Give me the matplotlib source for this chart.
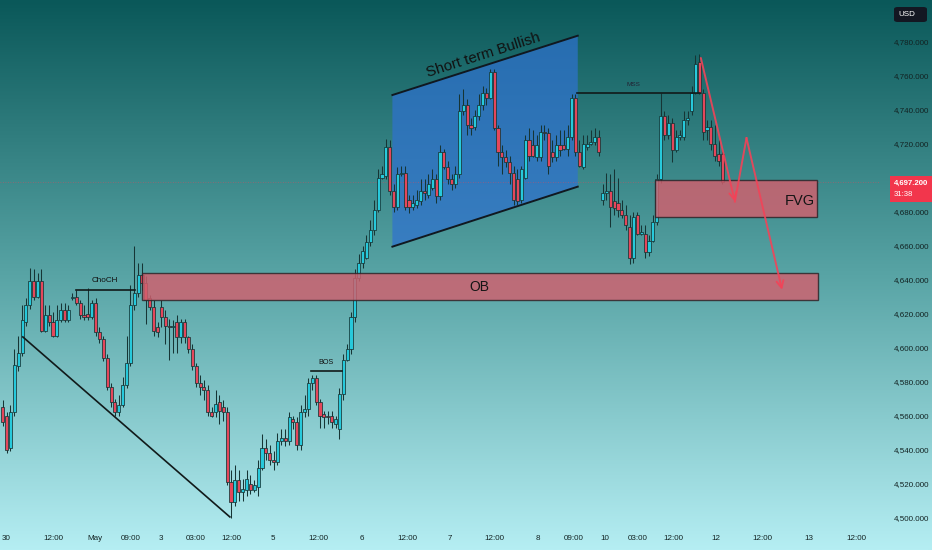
import matplotlib.pyplot as plt
import numpy as np
from matplotlib.colors import LinearSegmentedColormap
from matplotlib.patches import Polygon, Rectangle, FancyBboxPatch

plt.rcParams['font.family'] = ['Liberation Sans', 'DejaVu Sans']

# hourly candles (price units)
opens = [
    4565, 4560, 4541, 4562, 4589, 4597, 4615, 4625, 4639, 4630,
    4639, 4610, 4619, 4615, 4607, 4616, 4622, 4616, 4629, 4630,
    4626, 4619, 4620, 4618, 4626, 4609, 4605, 4594, 4577, 4568,
    4562, 4566, 4578, 4591, 4625, 4632, 4643, 4638, 4629, 4624,
    4612, 4624, 4618, 4613, 4612, 4615, 4606, 4615, 4606, 4599,
    4589, 4579, 4577, 4575, 4562, 4562, 4568, 4565, 4562, 4521,
    4509, 4522, 4515, 4516, 4520, 4516, 4518, 4529, 4541, 4538,
    4534, 4533, 4545, 4547, 4545, 4558, 4556, 4543, 4562, 4564,
    4579, 4582, 4568, 4561, 4560, 4560, 4555, 4552, 4573, 4593,
    4599, 4618, 4641, 4650, 4653, 4662, 4669, 4681, 4700, 4701,
    4718, 4692, 4683, 4702, 4703, 4687, 4683, 4684, 4686, 4692,
    4690, 4694, 4699, 4689, 4715, 4706, 4699, 4696, 4702, 4739,
    4743, 4731, 4730, 4736, 4743, 4750, 4747, 4762, 4729, 4715,
    4712, 4709, 4703, 4699, 4687, 4700, 4722, 4719, 4712, 4712,
    4727, 4726, 4715, 4712, 4719, 4719, 4717, 4724, 4747, 4715,
    4706, 4718, 4720, 4721, 4724, 4687, 4691, 4692, 4686, 4685,
    4681, 4678, 4671, 4653, 4678, 4667, 4667, 4656, 4663, 4674,
    4699, 4736, 4725, 4732, 4716, 4724, 4724, 4734, 4739, 4750,
    4768, 4750, 4728, 4730, 4720, 4714, 4714,
]
highs = [
    4569, 4562, 4566, 4599, 4607, 4625, 4629, 4647, 4646, 4644,
    4646, 4625, 4625, 4621, 4625, 4626, 4626, 4625, 4632, 4634,
    4628, 4625, 4635, 4628, 4629, 4612, 4607, 4596, 4579, 4570,
    4572, 4583, 4607, 4637, 4660, 4650, 4650, 4642, 4631, 4628,
    4615, 4628, 4622, 4617, 4616, 4619, 4617, 4617, 4607, 4602,
    4591, 4584, 4581, 4578, 4565, 4575, 4572, 4569, 4565, 4528,
    4531, 4528, 4523, 4528, 4525, 4522, 4534, 4549, 4546, 4543,
    4539, 4550, 4552, 4552, 4562, 4560, 4559, 4566, 4572, 4582,
    4584, 4584, 4570, 4563, 4563, 4563, 4560, 4576, 4596, 4602,
    4621, 4646, 4655, 4660, 4666, 4675, 4687, 4705, 4707, 4723,
    4722, 4696, 4706, 4707, 4707, 4690, 4690, 4693, 4699, 4699,
    4702, 4705, 4702, 4719, 4717, 4710, 4702, 4707, 4749, 4752,
    4746, 4735, 4740, 4749, 4754, 4753, 4764, 4764, 4731, 4719,
    4716, 4713, 4707, 4705, 4707, 4725, 4729, 4728, 4725, 4731,
    4731, 4729, 4722, 4725, 4728, 4728, 4731, 4749, 4749, 4722,
    4725, 4725, 4728, 4729, 4728, 4696, 4703, 4702, 4705, 4700,
    4687, 4684, 4678, 4680, 4680, 4672, 4672, 4666, 4678, 4702,
    4750, 4739, 4737, 4735, 4728, 4728, 4739, 4739, 4754, 4772,
    4773, 4752, 4734, 4734, 4731, 4722, 4716,
]
lows = [
    4554, 4538, 4539, 4560, 4586, 4595, 4613, 4623, 4628, 4629,
    4609, 4609, 4613, 4606, 4606, 4615, 4615, 4615, 4628, 4625,
    4617, 4616, 4616, 4617, 4607, 4603, 4592, 4575, 4565, 4560,
    4560, 4565, 4576, 4589, 4622, 4630, 4634, 4614, 4622, 4607,
    4606, 4612, 4602, 4593, 4597, 4597, 4603, 4603, 4597, 4587,
    4577, 4572, 4569, 4560, 4559, 4559, 4555, 4557, 4519, 4500,
    4507, 4510, 4510, 4513, 4514, 4515, 4513, 4528, 4534, 4531,
    4528, 4531, 4543, 4542, 4543, 4552, 4540, 4540, 4559, 4560,
    4575, 4566, 4553, 4553, 4555, 4553, 4553, 4546, 4569, 4592,
    4596, 4615, 4639, 4647, 4652, 4660, 4666, 4680, 4699, 4699,
    4690, 4680, 4681, 4701, 4681, 4679, 4681, 4682, 4684, 4687,
    4688, 4693, 4685, 4687, 4705, 4696, 4693, 4694, 4700, 4737,
    4725, 4725, 4728, 4734, 4740, 4743, 4746, 4728, 4707, 4702,
    4706, 4696, 4684, 4684, 4685, 4699, 4710, 4712, 4710, 4710,
    4722, 4702, 4709, 4710, 4713, 4716, 4713, 4722, 4713, 4706,
    4705, 4716, 4719, 4719, 4713, 4684, 4687, 4671, 4678, 4677,
    4676, 4669, 4649, 4650, 4666, 4666, 4653, 4654, 4662, 4672,
    4697, 4722, 4723, 4709, 4715, 4722, 4722, 4731, 4737, 4749,
    4749, 4722, 4722, 4716, 4710, 4707, 4696,
]
closes = [
    4556, 4540, 4562, 4590, 4597, 4616, 4625, 4639, 4630, 4639,
    4610, 4619, 4615, 4607, 4616, 4622, 4616, 4622, 4630, 4626,
    4619, 4618, 4618, 4626, 4609, 4605, 4594, 4577, 4568, 4562,
    4566, 4578, 4591, 4625, 4632, 4643, 4638, 4628, 4624, 4610,
    4609, 4618, 4613, 4612, 4613, 4606, 4615, 4606, 4599, 4589,
    4579, 4577, 4575, 4562, 4560, 4567, 4563, 4562, 4521, 4509,
    4522, 4515, 4517, 4523, 4516, 4519, 4529, 4541, 4538, 4534,
    4533, 4545, 4547, 4545, 4559, 4556, 4543, 4562, 4564, 4579,
    4582, 4568, 4560, 4559, 4559, 4556, 4558, 4573, 4593, 4599,
    4618, 4641, 4650, 4657, 4662, 4669, 4681, 4700, 4702, 4718,
    4692, 4683, 4702, 4703, 4683, 4683, 4685, 4687, 4692, 4691,
    4696, 4699, 4689, 4715, 4706, 4699, 4696, 4702, 4739, 4743,
    4731, 4729, 4736, 4743, 4750, 4747, 4762, 4729, 4715, 4712,
    4709, 4703, 4687, 4686, 4705, 4722, 4713, 4713, 4719, 4727,
    4726, 4707, 4712, 4719, 4716, 4717, 4724, 4747, 4715, 4707,
    4720, 4720, 4721, 4724, 4715, 4691, 4692, 4683, 4682, 4681,
    4678, 4672, 4653, 4677, 4667, 4668, 4656, 4663, 4674, 4699,
    4736, 4725, 4732, 4716, 4724, 4725, 4734, 4735, 4750, 4767,
    4750, 4727, 4730, 4720, 4713, 4710, 4697.2,
]

# time axis labels (position in candle units)
tick_pos = [0.85, 13.1, 23.9, 33.2, 40.8, 49.8, 59.0, 69.8, 81.7, 92.7, 104.5,
            115.6, 127.1, 138.3, 147.5, 155.5, 164.2, 173.4, 184.4, 196.4, 208.2, 220.5]
tick_labels = ["30", "12:00", "May", "09:00", "3", "03:00", "12:00", "5", "12:00", "6", "12:00",
               "7", "12:00", "8", "09:00", "10", "03:00", "12:00", "12", "12:00", "13", "12:00"]
price_ticks = np.arange(4500, 4781, 20)

# drawings (candle index, price)
ob_zone = (35.9, 210.7, 4628.0, 4643.7)
fvg_zone = (168.6, 210.3, 4677.0, 4698.6)
channel = [(100.7, 4748.6), (148.6, 4783.5), (148.6, 4694.7), (100.7, 4659.4)]
trend_line = [(5.2, 4606.3), (58.7, 4500.4)]
choch_line = [(18.9, 4634.0), (34.2, 4634.0)]
bos_line = [(79.7, 4586.3), (87.6, 4586.3)]
mss_line = [(148.4, 4749.6), (180.2, 4749.6)]
red_path = [(180.4, 4770.4), (189.2, 4685.9), (192.2, 4723.3), (201.4, 4634.0)]

up_col = "#27c9db"
dn_col = "#e4475b"
edge = "#163535"

fig = plt.figure(figsize=(9.32, 5.5), dpi=100)

# background gradient
bg = fig.add_axes([0, 0, 1, 1], zorder=-10)
cmap = LinearSegmentedColormap.from_list("bg", ["#0a5859", "#58a4a5", "#b5eef3"])
bg.imshow(np.linspace(0, 1, 256).reshape(-1, 1), aspect="auto", cmap=cmap,
          extent=[0, 1, 0, 1], origin="upper")
bg.axis("off")

ax = fig.add_axes([0, 22 / 550, 880 / 932, 528 / 550])
ax.patch.set_alpha(0)
ax.set_xlim(-0.7, 226.7)
ax.set_ylim(4493.9, 4804.5)

o = np.array(opens, dtype=float)
h = np.array(highs, dtype=float)
l = np.array(lows, dtype=float)
c = np.array(closes, dtype=float)
x = np.arange(len(c))
up = c >= o
cols = np.where(up, up_col, dn_col)
body = np.maximum(np.abs(c - o), 0.4)

# channel behind the candles
ax.add_patch(Polygon(channel, closed=True, facecolor="#2f72cf", alpha=0.72,
                     edgecolor="none", zorder=1))
ax.plot([channel[0][0], channel[1][0]], [channel[0][1], channel[1][1]], color="#101820", lw=1.4, zorder=2)
ax.plot([channel[3][0], channel[2][0]], [channel[3][1], channel[2][1]], color="#101820", lw=1.4, zorder=2)

ax.vlines(x, l, h, color=edge, lw=0.75, zorder=3)
ax.bar(x, body, bottom=np.minimum(o, c), width=0.8, color=cols,
       edgecolor=edge, linewidth=0.55, zorder=4)

# zones
for x0, x1, y0, y1 in [ob_zone, fvg_zone]:
    ax.add_patch(Rectangle((x0, y0), x1 - x0, y1 - y0, facecolor="#d2606e", alpha=0.82,
                           edgecolor="#2a2226", lw=1.0, zorder=5))
ax.text(123.3, 4635.7, "OB", fontsize=10, color="#151515", ha="center", va="center", zorder=6)
ax.text(206.0, 4686.3, "FVG", fontsize=10.5, color="#151515", ha="center", va="center", zorder=6)

# structure lines
for seg in [trend_line, choch_line, bos_line, mss_line]:
    ax.plot([p[0] for p in seg], [p[1] for p in seg], color="#111a1a", lw=1.2, zorder=6)
ax.text(26.4, 4639.2, "ChoCH", fontsize=5.9, color="#111", ha="center", va="center", zorder=6)
ax.text(83.5, 4591.0, "BOS", fontsize=5.2, color="#111", ha="center", va="center", zorder=6)
ax.text(162.9, 4754.5, "MSS", fontsize=4.6, color="#223", ha="center", va="center", zorder=6)
ax.text(124.1, 4772.0, "Short term Bullish", fontsize=10.8, color="#111", rotation=17.7,
        rotation_mode="anchor", ha="center", va="center", zorder=6)

# projected path
red = "#f24358"
arrow = dict(arrowstyle="->,head_length=0.5,head_width=0.25", color=red, lw=1.4,
             shrinkA=0, shrinkB=0, alpha=0.9)
ax.annotate("", xy=red_path[1], xytext=red_path[0], arrowprops=arrow, zorder=7)
ax.plot([red_path[1][0], red_path[2][0]], [red_path[1][1], red_path[2][1]], color=red, lw=1.4, alpha=0.9, zorder=7)
ax.annotate("", xy=red_path[3], xytext=red_path[2], arrowprops=arrow, zorder=7)

# last price line
ax.axhline(c[-1], color=dn_col, lw=0.6, ls=(0, (1, 2)), alpha=0.6, zorder=2)

# axes
for s in ax.spines.values():
    s.set_visible(False)
ax.yaxis.tick_right()
ax.set_yticks(price_ticks)
# the 4,700 label sits under the live price tag
ax.set_yticklabels(["" if v == 4700 else f"{v:,.3f}" for v in price_ticks])
ax.tick_params(axis="y", length=0, pad=10, labelsize=5.8, labelcolor="#122222")
ax.set_xticks(tick_pos)
ax.set_xticklabels(tick_labels)
ax.tick_params(axis="x", length=0, pad=5, labelsize=5.8, labelcolor="#122222")

# price tag and currency box
fig.add_artist(Rectangle((890 / 932, 1 - 202 / 550), 42 / 932, 26 / 550, transform=fig.transFigure,
                         facecolor="#f2364c", edgecolor="none", zorder=5))
fig.text(894 / 932, 1 - 183 / 550, f"{c[-1]:,.3f}", fontsize=5.6, color="white",
         fontweight="bold", ha="left", va="center", zorder=6)
fig.text(894 / 932, 1 - 195 / 550, "31:38", fontsize=5.6, color="white",
         ha="left", va="center", zorder=6)
fig.add_artist(FancyBboxPatch((894 / 932, 1 - 22 / 550), 33 / 932, 15 / 550,
                              boxstyle="round,pad=0,rounding_size=0.004", transform=fig.transFigure,
                              facecolor="#131722", edgecolor="none", zorder=5))
fig.text(898 / 932, 1 - 14 / 550, "USD", fontsize=5.8, color="white", ha="left", va="center", zorder=6)

plt.savefig("out.png", dpi=100)
